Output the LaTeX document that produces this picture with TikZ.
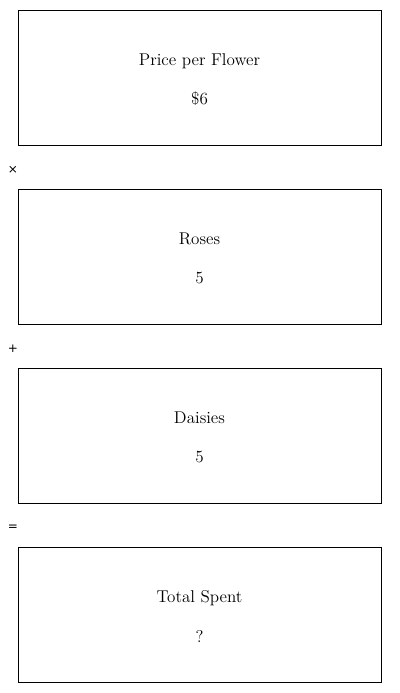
\documentclass[tikz,border=0pt]{standalone}
\usepackage{fontspec}
\usepackage{tikz}
\usetikzlibrary{positioning}
\newfontfamily\opfont{DejaVu Sans}

\begin{document}
\begin{tikzpicture}[x=0.75pt, y=-0.75pt,
    box/.style={rectangle, draw, line width=0.7pt, minimum width=272.25pt,
                minimum height=101.25pt, align=center,
                font=\fontsize{12.8}{15.5}\selectfont},
    op/.style={font=\opfont\small, inner sep=0pt}]
    \useasboundingbox (0,0) rectangle (400,693);

    % Quantities
    \node[box] (price) at (199.5, 77.5) {Price per Flower\\[13.8pt]\$6\\[-18.5pt]};
    \node[box] (roses) at (199.5, 256.5) {Roses\\[13.8pt]5\\[-18.5pt]};
    \node[box] (daisies) at (199.5, 435.5) {Daisies\\[13.8pt]5\\[-18.5pt]};
    \node[box] (total) at (199.5, 614.5) {Total Spent\\[13.8pt]?\\[-18.5pt]};

    % Operators
    \node[op] (times) at (13, 170) {×};
    \node[op] (plus) at (13, 349) {+};
    \node[op] (equals) at (13, 528) {=};
\end{tikzpicture}
\end{document}
